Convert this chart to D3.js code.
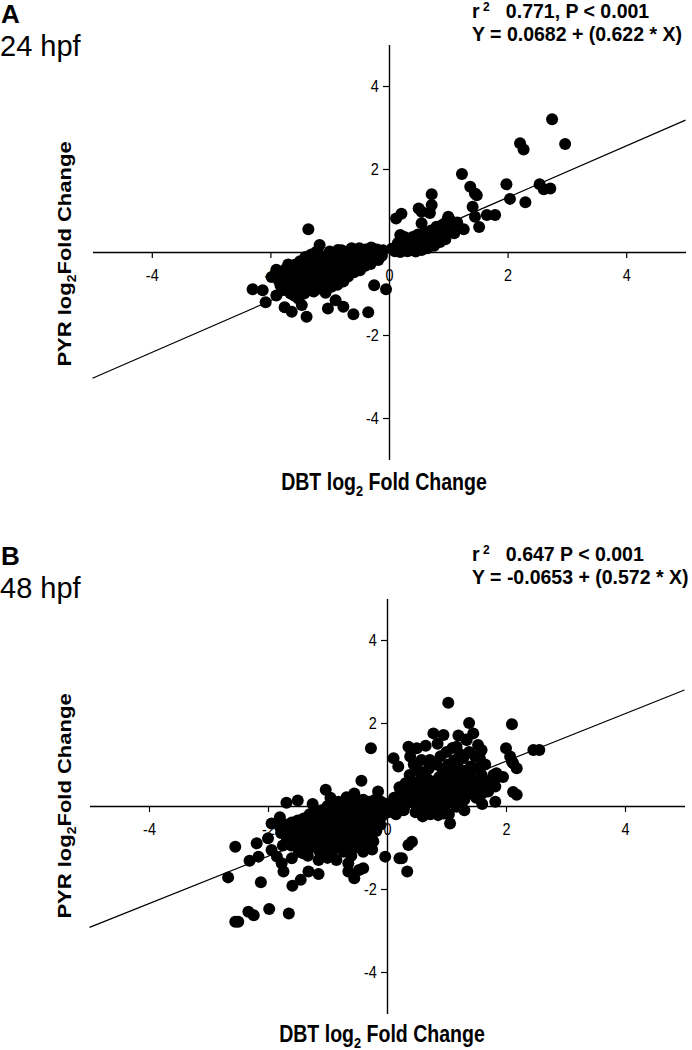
<!DOCTYPE html>
<html><head><meta charset="utf-8">
<script src="https://cdn.jsdelivr.net/npm/d3@7"></script>
<style>
html,body{margin:0;padding:0;background:#fff;}
svg text{font-family:"Liberation Sans",Arial,Helvetica,sans-serif;fill:#000;}
</style></head>
<body><svg id="c" width="692" height="1050"></svg>
<script>
// ---------- data ----------
const xTicks = [-4, -2, 0, 2, 4];
const yTicks = [-4, -2, 2, 4];
const panelLabels = ["A", "B"];
const stageLabels = ["24 hpf", "48 hpf"];
const r2Text = ["0.771, P < 0.001", "0.647 P < 0.001"];
const eqText = ["Y = 0.0682 + (0.622 * X)", "Y = -0.0653 + (0.572 * X)"];
const intercepts = [0.0682, -0.0653];
const slopes = [0.622, 0.572];
const xTitle = "DBT log";
const yTitle = "PYR log";

// Panel A (24 hpf): [DBT log2FC, PYR log2FC]
const pointsA = [
 [2.75,3.2],[2.97,2.6],[2.21,2.62],[2.27,2.47],[1.23,1.88],[1.98,1.63],[2.04,1.28],[2.30,1.2],[2.54,1.63],[2.61,1.51],[2.72,1.53],
 [1.37,1.57],[1.45,1.41],[1.48,1.37],[1.41,1.09],[1.45,0.85],[1.52,0.6],[1.65,0.89],[1.79,0.89],[1.26,0.55],[0.72,1.39],[0.72,1.13],
 [0.69,0.94],[0.5,1.05],[0.55,0.97],[0.12,0.81],[0.21,0.92],[0.19,0.41],[0.55,0.69],[1.0,0.85],[1.03,0.77],[0.19,0.0],
 [0.2,0.05],[0.25,0.12],[0.31,0.02],[0.35,0.17],[0.41,0.06],[0.44,0.22],[0.5,0.1],[0.56,0.27],[0.6,0.14],[0.66,0.31],[0.7,0.21],
 [0.76,0.36],[0.81,0.29],[0.85,0.46],[0.9,0.4],[0.96,0.56],[1.0,0.49],[1.06,0.62],[1.1,0.45],[0.3,0.31],[0.4,0.36],[0.49,0.42],
 [0.61,0.46],[0.71,0.52],[0.8,0.61],[0.91,0.66],[0.15,0.22],[0.26,0.36],[0.45,0.01],[0.55,0.05],[0.65,0.09],[0.76,0.15],[0.86,0.24],
 [0.95,0.31],[1.15,0.71],[0.98,0.76],[0.36,0.04],[0.59,0.25],[0.69,0.36],[0.22,0.27],[0.05,0.08],[0.1,0.02],
 [-1.36,0.55],[-1.17,0.17],[-1.23,0.0],[-2.30,-0.9],[-2.13,-0.92],[-2.08,-1.21],[-1.9,-1.05],[-1.76,-1.33],[-1.64,-1.44],[-1.39,-1.56],
 [-1.47,-1.28],[-1.03,-1.36],[-0.9,-1.16],[-0.77,-1.32],[-0.6,-1.5],[-0.35,-1.45],[-0.25,-0.8],[-0.05,-0.9],[-1.9,-0.43],[-1.98,-0.6],
 [-1.59,-0.31],[-1.38,-0.21],[-0.29,0.09],[-0.15,0.0],[-0.63,0.09],[-0.86,0.05],
 [-1.88,-0.52],[-1.86,-0.68],[-1.83,-0.8],[-1.78,-0.57],[-1.76,-0.74],[-1.8,-0.92],[-1.74,-0.41],
 [-1.69,-0.46],[-1.71,-0.62],[-1.68,-0.81],[-1.66,-1.0],[-1.7,-0.3],[-1.6,-0.36],[-1.58,-0.52],[-1.62,-0.69],[-1.57,-0.88],[-1.6,-1.05],
 [-1.5,-0.22],[-1.52,-0.44],[-1.48,-0.6],[-1.51,-0.79],[-1.47,-0.96],[-1.53,-1.12],[-1.41,-0.12],[-1.38,-0.31],[-1.42,-0.5],[-1.4,-0.7],
 [-1.37,-0.86],[-1.43,-1.0],[-1.31,-0.06],[-1.29,-0.26],[-1.32,-0.44],[-1.28,-0.61],[-1.3,-0.79],[-1.27,-0.95],[-1.2,-0.01],[-1.22,-0.19],
 [-1.18,-0.36],[-1.21,-0.54],[-1.19,-0.71],[-1.17,-0.88],[-1.1,-0.11],[-1.12,-0.29],[-1.08,-0.46],[-1.11,-0.62],[-1.09,-0.8],[-1.07,-0.98],
 [-1.0,0.01],[-1.02,-0.2],[-0.98,-0.34],[-1.01,-0.51],[-0.99,-0.69],[-0.97,-0.84],[-0.9,-0.04],[-0.92,-0.16],[-0.88,-0.31],[-0.91,-0.44],
 [-0.89,-0.61],[-0.87,-0.79],[-0.8,0.04],[-0.82,-0.11],[-0.78,-0.26],[-0.81,-0.39],[-0.79,-0.54],[-0.77,-0.71],[-0.7,0.01],[-0.72,-0.14],
 [-0.68,-0.29],[-0.71,-0.46],[-0.69,-0.59],[-0.6,0.04],[-0.62,-0.09],[-0.58,-0.21],[-0.61,-0.36],[-0.59,-0.49],[-0.5,0.09],[-0.52,-0.06],
 [-0.48,-0.16],[-0.51,-0.29],[-0.49,-0.44],[-0.4,0.06],[-0.42,-0.04],[-0.38,-0.19],[-0.41,-0.34],[-0.3,0.11],[-0.32,0.0],[-0.28,-0.14],
 [-0.31,-0.29],[-0.2,0.06],[-0.22,-0.06],[-0.18,-0.19],[-0.1,0.04],[-0.12,-0.09]
];

// Panel B (48 hpf): [DBT log2FC, PYR log2FC]
const pointsB = [
 [1.03,2.49],[1.38,2.0],[2.1,1.97],[2.46,1.35],[2.56,1.35],[2.0,1.39],[2.07,1.19],[2.12,1.03],[2.18,0.91],[2.1,1.07],[2.12,0.34],
 [2.18,0.27],[1.82,0.47],[1.82,0.1],[1.84,0.79],[0.78,1.75],[0.95,1.71],[1.34,1.59],[1.53,1.47],[1.59,1.35],[1.56,1.15],[1.17,1.43],
 [0.36,1.43],[0.5,1.39],[0.39,1.19],[0.11,1.15],[0.19,0.95],[0.58,1.11],[0.72,1.11],[1.06,-0.42],[0.86,-0.22],[0.95,-0.18],[1.17,-0.02],
 [0.42,-0.86],[0.36,-0.94],[0.25,-1.26],[0.34,-1.58],[0.21,-1.26],
 [0.1,0.0],[0.12,0.2],[0.09,-0.1],[0.2,0.1],[0.22,0.3],[0.19,0.05],[0.21,0.45],[0.3,0.0],[0.32,0.2],[0.29,0.35],[0.31,0.55],[0.28,-0.1],
 [0.4,0.1],[0.42,0.25],[0.39,0.4],[0.41,0.6],[0.38,0.75],[0.5,0.0],[0.52,0.15],[0.49,0.3],[0.51,0.45],[0.48,-0.15],[0.53,0.85],
 [0.6,0.1],[0.62,0.25],[0.59,0.4],[0.61,0.55],[0.58,0.7],[0.63,-0.1],[0.7,0.0],[0.72,0.2],[0.69,0.35],[0.71,0.5],[0.68,0.65],[0.73,-0.2],
 [0.7,0.9],[0.8,0.1],[0.82,0.25],[0.79,0.4],[0.81,0.6],[0.78,-0.15],[0.83,1.0],[0.9,0.0],[0.92,0.2],[0.89,0.35],[0.91,0.5],[0.88,0.7],
 [0.93,0.9],[0.9,1.2],[1.0,0.05],[1.02,0.25],[0.99,0.4],[1.01,0.55],[0.98,0.75],[1.03,1.0],[1.0,1.3],[1.04,-0.2],[1.1,0.1],[1.12,0.3],
 [1.09,0.5],[1.11,0.65],[1.08,0.85],[1.13,1.1],[1.1,1.4],[1.2,0.2],[1.22,0.35],[1.19,0.55],[1.21,0.8],[1.18,1.0],[1.23,1.25],[1.3,0.15],
 [1.32,0.4],[1.29,0.6],[1.31,0.85],[1.28,1.15],[1.33,1.6],[1.4,0.3],[1.42,0.5],[1.39,0.75],[1.41,0.95],[1.38,1.3],[1.5,0.2],[1.52,0.45],
 [1.49,0.6],[1.51,0.9],[1.48,1.2],[1.6,0.3],[1.62,0.55],[1.59,0.75],[1.7,0.35],[1.72,0.6],[1.8,0.6],[1.79,0.75],
 [0.65,1.45],[0.85,1.5],[1.2,1.7],[1.45,1.75],[1.65,1.0],[1.95,0.7],[0.15,-0.2],[0.6,-0.25],[1.3,-0.1],[1.6,0.05],[0.45,1.0],
 [-0.27,1.39],[-0.43,0.61],[-1.03,0.39],[-1.69,0.08],[-1.5,0.13],[-0.68,0.21],[-0.82,0.1],[-1.8,-0.27],[-1.94,-0.42],[-2.0,-0.78],
 [-2.55,-0.98],[-2.19,-0.9],[-2.16,-1.22],[-2.31,-1.32],[-2.67,-1.72],[-2.12,-1.84],[-1.59,-1.92],[-1.45,-1.78],[-1.32,-1.58],[-1.15,-1.64],
 [-1.94,-1.06],[-1.85,-1.22],[-1.77,-1.38],[-1.74,-1.58],[-2.55,-2.79],[-2.5,-2.79],[-2.33,-2.55],[-2.24,-2.63],[-1.98,-2.48],[-1.65,-2.59],
 [-0.65,-1.38],[-0.65,-1.58],[-0.55,-1.74],[-0.47,-1.54],[-0.4,-1.5],[-0.03,-1.22],[-1.15,-1.3],[-0.96,-1.18],[-1.6,-1.26],[-1.41,-1.14],
 [-1.8,-0.5],[-1.78,-0.65],[-1.7,-0.45],[-1.72,-0.6],[-1.68,-0.8],[-1.6,-0.4],[-1.62,-0.55],[-1.58,-0.75],[-1.61,-0.95],[-1.5,-0.35],
 [-1.52,-0.5],[-1.49,-0.7],[-1.51,-0.9],[-1.48,-1.1],[-1.4,-0.3],[-1.42,-0.5],[-1.39,-0.65],[-1.41,-0.85],[-1.38,-1.05],[-1.3,-0.2],
 [-1.32,-0.4],[-1.29,-0.6],[-1.31,-0.8],[-1.28,-1.0],[-1.33,-1.2],[-1.2,-0.15],[-1.22,-0.35],[-1.19,-0.55],[-1.21,-0.75],[-1.18,-0.95],
 [-1.1,-0.1],[-1.12,-0.3],[-1.09,-0.5],[-1.11,-0.7],[-1.08,-0.9],[-1.13,-1.1],[-1.0,0.0],[-1.02,-0.2],[-0.99,-0.4],[-1.01,-0.6],
 [-0.98,-0.8],[-1.03,-1.0],[-1.0,-1.25],[-0.9,-0.1],[-0.92,-0.3],[-0.89,-0.5],[-0.91,-0.7],[-0.88,-0.9],[-0.93,-1.15],[-0.8,0.05],
 [-0.82,-0.15],[-0.79,-0.35],[-0.81,-0.55],[-0.78,-0.75],[-0.83,-1.0],[-0.7,0.0],[-0.72,-0.2],[-0.69,-0.4],[-0.71,-0.6],[-0.68,-0.85],
 [-0.73,-1.1],[-0.6,0.1],[-0.62,-0.1],[-0.59,-0.3],[-0.61,-0.5],[-0.58,-0.7],[-0.63,-0.95],[-0.6,-1.2],[-0.5,0.05],[-0.52,-0.15],
 [-0.49,-0.35],[-0.51,-0.55],[-0.48,-0.8],[-0.53,-1.0],[-0.4,0.15],[-0.42,-0.05],[-0.39,-0.25],[-0.41,-0.45],[-0.38,-0.7],[-0.43,-0.9],
 [-0.4,-1.1],[-0.3,0.1],[-0.32,-0.1],[-0.29,-0.3],[-0.31,-0.5],[-0.28,-0.75],[-0.33,-0.95],[-0.2,0.15],[-0.22,0.0],[-0.19,-0.2],
 [-0.21,-0.4],[-0.18,-0.6],[-0.23,-0.85],[-0.1,0.1],[-0.12,-0.05],[-0.09,-0.25],[-0.11,-0.45],[0.0,0.05],[0.02,-0.15],
 [-1.25,0.05],[-0.95,0.2],[-0.55,0.3],[-0.15,0.35],[-0.25,-1.05],[-0.85,-1.3],[-1.75,-0.95]
];

// ---------- layout ----------
const panels = [
  {pts: pointsA, xr: [92.5, 685.5], yr: [459.5, 44.5], lab: [1, 23], stage: [0, 56], st1: 18, st2: 41, xt: 490, yt: 254},
  {pts: pointsB, xr: [89.5, 684.5], yr: [1013.5, 598.5], lab: [1, 565], stage: [0, 598], st1: 561, st2: 584, xt: 1042, yt: 806}
];
const HS = 0.85; // horizontal squeeze of the original figure's lettering
const svg = d3.select("#c");

panels.forEach((p, i) => {
  const x = d3.scaleLinear().domain([-5, 5]).range(p.xr);
  const y = d3.scaleLinear().domain([-5, 5]).range(p.yr);
  const g = svg.append("g");

  // axes through origin
  const xa = g.append("g").attr("transform", `translate(0,${y(0)})`)
    .call(d3.axisBottom(x).tickValues(xTicks).tickSize(6).tickSizeOuter(0).tickFormat(d3.format("d")));
  const ya = g.append("g").attr("transform", `translate(${x(0)},0)`)
    .call(d3.axisLeft(y).tickValues(yTicks).tickSize(6).tickSizeOuter(0).tickFormat(d3.format("d")));
  [xa, ya].forEach(a => {
    a.select(".domain").attr("stroke", "#000").attr("stroke-width", 1.4);
    a.selectAll(".tick line").attr("stroke", "#000").attr("stroke-width", 1.2);
    a.selectAll(".tick text").attr("font-size", 17).attr("font-family", "'Liberation Sans',Arial,sans-serif").attr("fill", "#000");
  });
  xa.selectAll(".tick text").text(d => d < 0 ? "-" + Math.abs(d) : d).attr("y", 17)
    .attr("transform", `scale(${HS},1)`);
  ya.selectAll(".tick text").text(d => d < 0 ? "-" + Math.abs(d) : d).attr("x", -12)
    .attr("transform", `scale(${HS},1)`);

  // regression line
  const line = d3.line().x(d => x(d)).y(d => y(intercepts[i] + slopes[i] * d));
  g.append("path").datum([-5, 5]).attr("d", line).attr("stroke", "#000").attr("stroke-width", 1.2).attr("fill", "none");

  // points
  g.append("g").selectAll("circle").data(p.pts).join("circle")
    .attr("cx", d => x(d[0])).attr("cy", d => y(d[1])).attr("r", 6).attr("fill", "#000");

  // panel letter & stage
  g.append("text").attr("x", p.lab[0]).attr("y", p.lab[1])
    .attr("font-size", 26).attr("font-weight", "bold").text(panelLabels[i]);
  g.append("text").attr("x", p.stage[0]).attr("y", p.stage[1])
    .attr("font-size", 29).text(stageLabels[i]);

  // stats
  const s1 = g.append("text").attr("x", 472).attr("y", p.st1).attr("font-size", 19.5).attr("font-weight", "bold")
    .style("white-space", "pre");
  s1.append("tspan").text("r");
  s1.append("tspan").attr("font-size", 12).attr("dy", -7).text(" 2");
  s1.append("tspan").attr("dy", 7).text("   " + r2Text[i]);
  g.append("text").attr("x", 472).attr("y", p.st2).attr("font-size", 19.5).attr("font-weight", "bold").text(eqText[i]);

  // axis titles
  const xtT = g.append("text").attr("transform", `translate(${(p.xr[0] + p.xr[1]) / 2 - 5},${p.xt}) scale(${HS},1)`)
    .attr("text-anchor", "middle").attr("font-size", 23).attr("font-weight", "bold");
  xtT.append("tspan").text(xTitle);
  xtT.append("tspan").attr("font-size", 15).attr("dy", 6).text("2");
  xtT.append("tspan").attr("dy", -6).text(" Fold Change");

  const ytT = g.append("text").attr("transform", `translate(71,${p.yt}) scale(${HS},1) rotate(-90)`)
    .attr("text-anchor", "middle").attr("font-size", 22).attr("font-weight", "bold");
  ytT.append("tspan").text(yTitle);
  ytT.append("tspan").attr("font-size", 14).attr("dy", 6).text("2");
  ytT.append("tspan").attr("dy", -6).text("Fold Change");
});
</script></body></html>
